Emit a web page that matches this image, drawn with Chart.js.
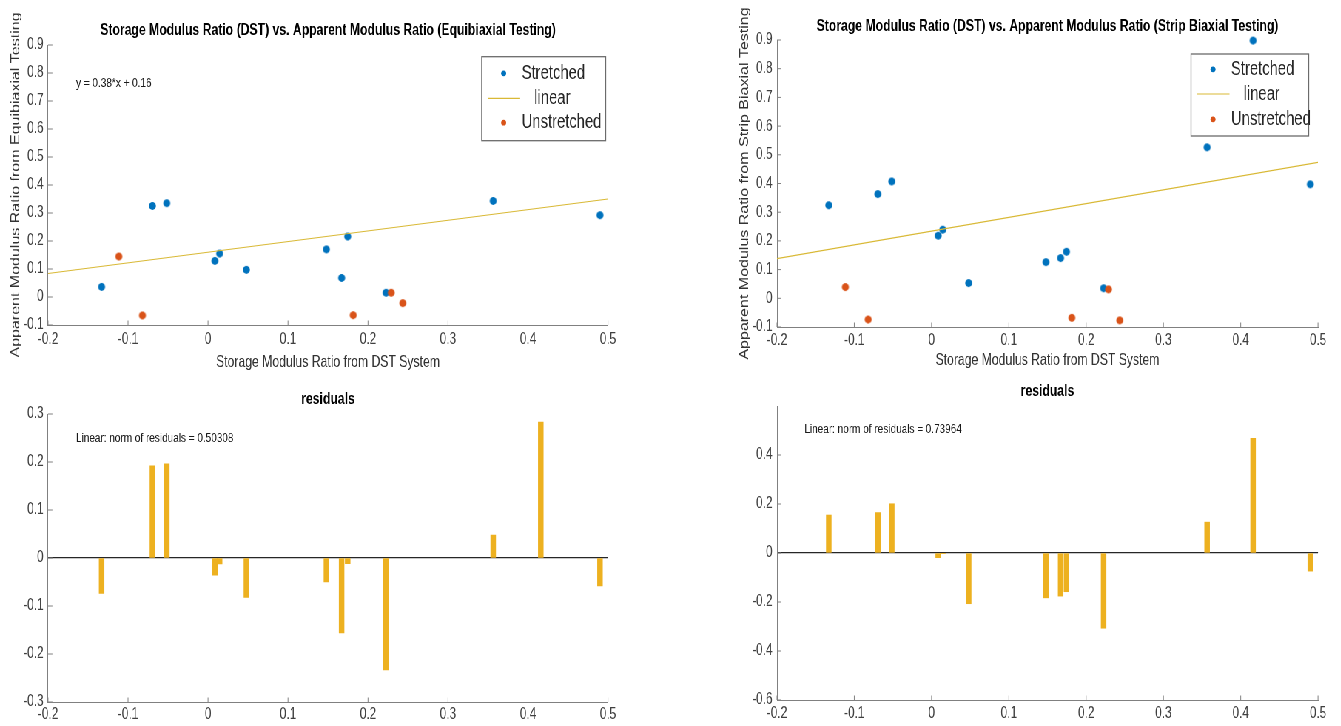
<!DOCTYPE html>
<html>
<head>
<meta charset="utf-8">
<title>Storage Modulus Ratio vs. Apparent Modulus Ratio</title>
<script src="https://cdn.jsdelivr.net/npm/chart.js@4.4.1/dist/chart.umd.min.js"></script>
<style>
  html, body { margin: 0; padding: 0; background: #fff; overflow: hidden; }
  /* the figure is laid out wide and squeezed horizontally, like the exported MATLAB figure */
  #sheet { position: absolute; left: 0; top: 0; width: 1812px; height: 726px; transform: scaleX(0.74); transform-origin: 0 0; }
  .panel { position: absolute; }
</style>
</head>
<body>
<div id="sheet">
  <div class="panel" style="left:0;top:0;width:900px;height:380px"><canvas id="equiScatter"></canvas></div>
  <div class="panel" style="left:900px;top:0;width:912px;height:380px"><canvas id="stripScatter"></canvas></div>
  <div class="panel" style="left:0;top:380px;width:900px;height:346px"><canvas id="equiResid"></canvas></div>
  <div class="panel" style="left:900px;top:380px;width:912px;height:346px"><canvas id="stripResid"></canvas></div>
</div>
<script>
// storage modulus ratio from the DST system (same samples in both tests)
const dstStretched = [-0.133, -0.0695, -0.0515, 0.0086, 0.0145, 0.048, 0.148, 0.167, 0.1746, 0.2226, 0.3565, 0.416, 0.490];
const dstUnstretched = [-0.1115, -0.082, 0.1815, 0.229, 0.2435];

// apparent modulus ratio, equibiaxial testing
const equiStretched = [0.036, 0.325, 0.335, 0.129, 0.155, 0.097, 0.170, 0.068, 0.216, 0.015, 0.343, 0.601, 0.292];
const equiUnstretched = [0.1445, -0.066, -0.065, 0.015, -0.022];
const equiResiduals = [-0.074, 0.192, 0.196, -0.036, -0.0125, -0.082, -0.050, -0.156, -0.012, -0.233, 0.048, 0.283, -0.058];
const equiFit = [0.38, 0.16];   // slope, intercept

// apparent modulus ratio, strip biaxial testing
const stripStretched = [0.324, 0.363, 0.407, 0.218, 0.239, 0.053, 0.126, 0.140, 0.162, 0.035, 0.526, 0.898, 0.397];
const stripUnstretched = [0.039, -0.074, -0.068, 0.031, -0.077];
const stripResiduals = [0.155, 0.165, 0.201, -0.019, -0.002, -0.207, -0.183, -0.176, -0.158, -0.307, 0.126, 0.468, -0.074];
const stripFit = [0.48, 0.234];

const fitRange = [-0.2, 0.5];
const xTickValues = [-0.2, -0.1, 0, 0.1, 0.2, 0.3, 0.4, 0.5];
const scatterTickValues = [-0.1, 0, 0.1, 0.2, 0.3, 0.4, 0.5, 0.6, 0.7, 0.8, 0.9];
const equiResidTicks = [-0.3, -0.2, -0.1, 0, 0.1, 0.2, 0.3];
const stripResidTicks = [-0.6, -0.4, -0.2, 0, 0.2, 0.4];

const SQUEEZE = 0.74;
const BLUE = '#0072BD', ORANGE = '#D95319', GOLD = '#EDB120', FITLINE = '#d9b936';
const AXIS = '#808080', TICK = '#404040', LABEL = '#333333';
const FONT = "'Liberation Sans', Arial, Helvetica, sans-serif";

const pts = (xs, ys) => xs.map((x, i) => ({ x, y: ys[i] }));
const fitLine = ([m, b]) => fitRange.map(x => ({ x, y: m * x + b }));
const fmt = v => String(Number(v.toFixed(2)));

// marker drawn a little wider so it stays round once the sheet is squeezed
function dot(color, r) {
  const rx = r * 0.9 / SQUEEZE, ry = r;
  const c = document.createElement('canvas');
  c.width = Math.ceil(rx * 2) + 2;
  c.height = Math.ceil(ry * 2) + 2;
  const g = c.getContext('2d');
  g.fillStyle = color;
  g.beginPath();
  g.ellipse(c.width / 2, c.height / 2, rx, ry, 0, 0, Math.PI * 2);
  g.fill();
  return c;
}
const blueDot = dot(BLUE, 3.9), orangeDot = dot(ORANGE, 3.9);

// MATLAB style tick marks pointing into the axes
const innerTicks = {
  id: 'innerTicks',
  afterDraw(chart) {
    const { ctx, chartArea: a, scales: { x, y } } = chart;
    ctx.save();
    ctx.strokeStyle = AXIS;
    ctx.lineWidth = 1;
    ctx.beginPath();
    x.ticks.forEach(t => {
      const px = x.getPixelForValue(t.value);
      ctx.moveTo(px, a.bottom);
      ctx.lineTo(px, a.bottom - 4.5);
    });
    y.ticks.forEach(t => {
      const py = y.getPixelForValue(t.value);
      ctx.moveTo(a.left, py);
      ctx.lineTo(a.left + 6, py);
    });
    ctx.stroke();
    ctx.restore();
  }
};

// boxed legend sitting inside the axes, top right
const boxLegend = {
  id: 'boxLegend',
  afterDatasetsDraw(chart, args, o) {
    if (!o.rows) return;
    const { ctx, chartArea: a } = chart;
    const left = a.right - o.right - o.width;
    const top = a.top + o.top;
    ctx.save();
    ctx.fillStyle = '#fff';
    ctx.fillRect(left, top, o.width, o.height);
    ctx.strokeStyle = '#6b6b6b';
    ctx.lineWidth = 1.3;
    ctx.strokeRect(left, top, o.width, o.height);
    ctx.font = '20px ' + FONT;
    ctx.textBaseline = 'middle';
    chart.data.datasets.forEach((ds, i) => {
      const cy = top + o.rows[i];
      if (ds.showLine) {
        ctx.strokeStyle = ds.borderColor;
        ctx.lineWidth = 1.2;
        ctx.beginPath();
        ctx.moveTo(left + 8.5, cy);
        ctx.lineTo(left + 52, cy);
        ctx.stroke();
        ctx.fillStyle = '#262626';
        ctx.fillText(ds.label, left + 71, cy);
      } else {
        ctx.fillStyle = ds.backgroundColor;
        ctx.beginPath();
        ctx.ellipse(left + 29.7, cy, 3.4, 2.9, 0, 0, Math.PI * 2);
        ctx.fill();
        ctx.fillStyle = '#262626';
        ctx.fillText(ds.label, left + 54, cy);
      }
    });
    ctx.restore();
  }
};

// text annotations placed in data coordinates
const notes = {
  id: 'notes',
  afterDatasetsDraw(chart, args, o) {
    const { ctx, scales: { x, y } } = chart;
    ctx.save();
    ctx.font = '13.5px ' + FONT;
    ctx.fillStyle = '#1a1a1a';
    ctx.textBaseline = 'middle';
    (o.items || []).forEach(n => ctx.fillText(n.text, x.getPixelForValue(n.x), y.getPixelForValue(n.y)));
    ctx.restore();
  }
};

function makePanel(id, c) {
  return new Chart(document.getElementById(id), {
    type: c.type,
    data: { datasets: c.datasets },
    plugins: [innerTicks, boxLegend, notes],
    options: {
      responsive: true,
      maintainAspectRatio: false,
      animation: false,
      layout: { padding: c.padding },
      plugins: {
        legend: { display: false },
        tooltip: { enabled: false },
        title: {
          display: true,
          text: c.title,
          fullSize: false,
          color: '#000',
          font: { family: FONT, size: 16.5, weight: 'bold' },
          padding: c.titlePad
        },
        boxLegend: c.legend || {},
        notes: { items: c.notes || [] }
      },
      scales: {
        x: {
          type: 'linear',
          min: -0.2,
          max: 0.5,
          offset: false,
          afterBuildTicks: s => { s.ticks = xTickValues.map(value => ({ value })); },
          afterFit: s => { s.height = c.xHeight; },
          grid: { display: false, drawTicks: false },
          border: { display: true, color: AXIS, width: 1 },
          ticks: { color: TICK, font: { family: FONT, size: 16 }, padding: c.xTickPad, maxRotation: 0, autoSkip: false, callback: fmt },
          title: c.xTitle
            ? { display: true, text: c.xTitle, color: LABEL, font: { family: FONT, size: 16.5 }, padding: { top: 0, bottom: c.xTitlePad } }
            : { display: false }
        },
        y: {
          type: 'linear',
          min: c.yMin,
          max: c.yMax,
          afterBuildTicks: s => { s.ticks = c.yTicks.map(value => ({ value })); },
          afterFit: s => { s.width = 64.9; },
          grid: c.zeroLine
            ? { display: true, drawTicks: false, lineWidth: 1.3, color: g => (g.tick && g.tick.value === 0 ? '#262626' : 'rgba(0,0,0,0)') }
            : { display: false, drawTicks: false },
          border: { display: true, color: AXIS, width: 1 },
          ticks: { color: TICK, font: { family: FONT, size: 16 }, padding: 6, autoSkip: false, callback: fmt },
          title: c.yTitle
            ? { display: true, text: c.yTitle, color: LABEL, font: { family: FONT, size: 16 }, padding: { top: c.yTitlePad, bottom: 0 } }
            : { display: false }
        }
      }
    }
  });
}

function scatterSets(stretched, unstretched, fit) {
  return [
    { label: 'Stretched', data: pts(dstStretched, stretched), backgroundColor: BLUE, borderColor: BLUE, pointStyle: blueDot, order: 3, clip: false },
    { label: 'linear', data: fitLine(fit), showLine: true, borderColor: FITLINE, borderWidth: 1.2, pointRadius: 0, order: 2 },
    { label: 'Unstretched', data: pts(dstUnstretched, unstretched), backgroundColor: ORANGE, borderColor: ORANGE, pointStyle: orangeDot, order: 1, clip: false }
  ];
}

function residualSet(values) {
  return [{ label: 'residuals', data: pts(dstStretched, values), backgroundColor: GOLD, borderWidth: 0, barThickness: 6.8, grouped: false }];
}

makePanel('equiScatter', {
  type: 'scatter',
  datasets: scatterSets(equiStretched, equiUnstretched, equiFit),
  title: 'Storage Modulus Ratio (DST) vs. Apparent Modulus Ratio (Equibiaxial Testing)',
  titlePad: { top: 21, bottom: 4.2 },
  padding: { left: 0, right: 78.4, top: 0, bottom: 0 },
  xHeight: 55, xTickPad: 5,
  xTitle: 'Storage Modulus Ratio from DST System', xTitlePad: 8,
  yTitle: 'Apparent Modulus Ratio from Equibiaxial Testing', yTitlePad: 12,
  yMin: -0.1, yMax: 0.9, yTicks: scatterTickValues,
  legend: { right: 3.1, top: 11.7, width: 167.6, height: 84, rows: [16.6, 41.6, 66] },
  notes: [{ x: -0.165, y: 0.762, text: 'y = 0.38*x + 0.16' }]
});

makePanel('stripScatter', {
  type: 'scatter',
  datasets: scatterSets(stripStretched, stripUnstretched, stripFit),
  title: 'Storage Modulus Ratio (DST) vs. Apparent Modulus Ratio (Strip Biaxial Testing)',
  titlePad: { top: 16.1, bottom: 4.1 },
  padding: { left: 85.1, right: 30.9, top: 0, bottom: 0 },
  xHeight: 53, xTickPad: 4,
  xTitle: 'Storage Modulus Ratio from DST System', xTitlePad: 10,
  yTitle: 'Apparent Modulus Ratio from Strip Biaxial Testing', yTitlePad: 12.1,
  yMin: -0.1, yMax: 0.9, yTicks: scatterTickValues,
  legend: { right: 12.6, top: 14, width: 159, height: 82, rows: [15.3, 40, 65.3] }
});

makePanel('equiResid', {
  type: 'bar',
  datasets: residualSet(equiResiduals),
  title: 'residuals',
  titlePad: { top: 9.4, bottom: 4.8 },
  padding: { left: 0, right: 78.4, top: 0, bottom: 0 },
  xHeight: 24, xTickPad: 3,
  yMin: -0.3, yMax: 0.3, yTicks: equiResidTicks, zeroLine: true,
  notes: [{ x: -0.165, y: 0.25, text: 'Linear: norm of residuals = 0.50308' }]
});

makePanel('stripResid', {
  type: 'bar',
  datasets: residualSet(stripResiduals),
  title: 'residuals',
  titlePad: { top: 1.5, bottom: 4.7 },
  padding: { left: 85.1, right: 30.9, top: 0, bottom: 0 },
  xHeight: 26, xTickPad: 4,
  yMin: -0.6, yMax: 0.6, yTicks: stripResidTicks, zeroLine: true,
  notes: [{ x: -0.1645, y: 0.505, text: 'Linear: norm of residuals = 0.73964' }]
});
</script>
</body>
</html>
